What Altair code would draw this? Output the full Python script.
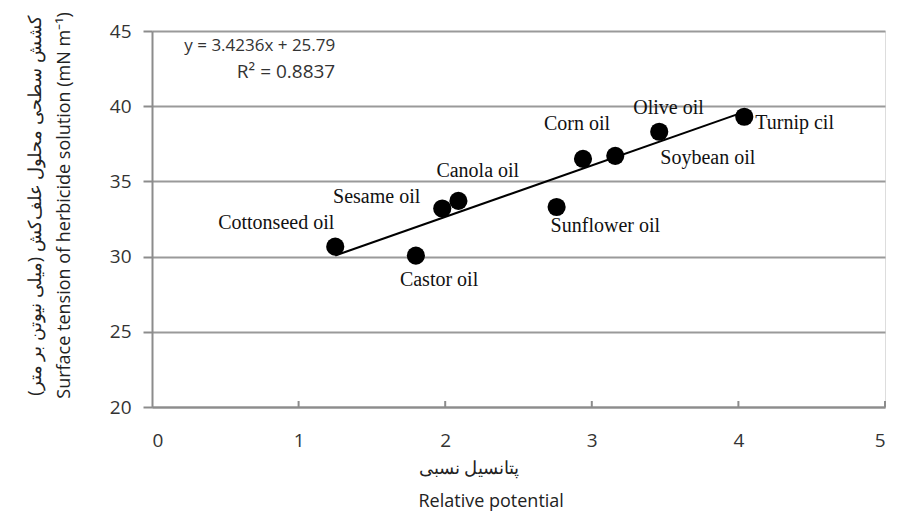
import altair as alt
import pandas as pd

# ---- data ----
OILS = ["Cottonseed oil", "Castor oil", "Sesame oil", "Canola oil", "Sunflower oil",
        "Corn oil", "Soybean oil", "Olive oil", "Turnip cil"]
POTENTIAL = [1.25, 1.80, 1.98, 2.09, 2.76, 2.94, 3.16, 3.46, 4.04]
TENSION = [30.66, 30.06, 33.2, 33.7, 33.3, 36.5, 36.7, 38.3, 39.3]
X_TICKS = [0, 1, 2, 3, 4, 5]
Y_TICKS = [20, 25, 30, 35, 40, 45]
SLOPE = 3.4236
INTERCEPT = 25.79
EQUATION = "y = 3.4236x + 25.79"
R2_TEXT = "R² = 0.8837"
X_TITLE = ["پتانسیل نسبی", "Relative potential"]
Y_TITLE = ["کشش سطحی محلول علف‌کش (میلی نیوتن بر متر)",
           "Surface tension of herbicide solution (mN m⁻¹)"]

# ---- label styles (align, dx, dy) ----
LABEL_STYLE = {
    "Cottonseed oil": ("right", -1, -24),
    "Castor oil": ("left", -16, 24),
    "Sesame oil": ("right", -22, -11),
    "Canola oil": ("left", -22, -30),
    "Sunflower oil": ("left", -6, 19),
    "Corn oil": ("left", -39, -35),
    "Soybean oil": ("left", 45, 2),
    "Olive oil": ("left", -26, -24),
    "Turnip cil": ("left", 11, 6),
}

df = pd.DataFrame({"oil": OILS, "x": POTENTIAL, "y": TENSION})
x0, x1 = min(POTENTIAL), max(POTENTIAL)
line_df = pd.DataFrame({"x": [x0, x1], "y": [SLOPE * x0 + INTERCEPT, SLOPE * x1 + INTERCEPT]})
eq_df = pd.DataFrame({"x": [1.25], "y": [44.0], "t": [EQUATION]})
r2_df = pd.DataFrame({"x": [1.25], "y": [42.3], "t": [R2_TEXT]})
tick_df = pd.DataFrame({"x": X_TICKS[1:], "y": [20] * 5, "y2": [20.4] * 5})

AX_FONT = "Open Sans"
xscale = alt.Scale(domain=[0, 5], nice=False, zero=False)
yscale = alt.Scale(domain=[20, 45], nice=False, zero=False)

W, H = 733, 376

xaxis = alt.Axis(values=X_TICKS, format="d", title=X_TITLE, grid=False, ticks=False,
                 labelFont=AX_FONT, labelFontSize=19, labelColor="#333333",
                 labelPadding=24, domainColor="#8c8c8c", domainWidth=2,
                 titleFont=AX_FONT, titleFontSize=18, titleFontWeight="normal",
                 titleColor="#222222", titlePadding=9, titleLineHeight=33,
                 titleAlign="left", titleAnchor="start", titleX=266)
yaxis = alt.Axis(values=Y_TICKS, title=Y_TITLE, grid=True, gridColor="#9a9a9a",
                 gridWidth=2, tickColor="#8c8c8c", tickSize=9, tickWidth=2,
                 labelFont=AX_FONT, labelFontSize=19, labelColor="#333333",
                 labelPadding=12, domainColor="#8c8c8c", domainWidth=2,
                 titleFont=AX_FONT, titleFontSize=18, titleFontWeight="normal",
                 titleColor="#222222", titlePadding=36, titleLineHeight=29,
                 titleY=174)

base_pts = alt.Chart(df).mark_circle(size=330, color="black", opacity=1).encode(
    x=alt.X("x:Q", scale=xscale, axis=xaxis),
    y=alt.Y("y:Q", scale=yscale, axis=yaxis),
)

trend = alt.Chart(line_df).mark_line(color="black", strokeWidth=2).encode(
    x=alt.X("x:Q", scale=xscale), y=alt.Y("y:Q", scale=yscale))

xticks = alt.Chart(tick_df).mark_rule(color="#8c8c8c", strokeWidth=2).encode(
    x=alt.X("x:Q", scale=xscale), y=alt.Y("y:Q", scale=yscale), y2="y2:Q")

eq = alt.Chart(eq_df).mark_text(align="right", baseline="middle", font=AX_FONT,
                                fontSize=17, color="#333333").encode(
    x=alt.X("x:Q", scale=xscale), y=alt.Y("y:Q", scale=yscale), text="t:N")
r2 = alt.Chart(r2_df).mark_text(align="right", baseline="middle", font=AX_FONT,
                                fontSize=19, color="#333333").encode(
    x=alt.X("x:Q", scale=xscale), y=alt.Y("y:Q", scale=yscale), text="t:N")

labels = []
for name, (al, dx, dy) in LABEL_STYLE.items():
    labels.append(
        alt.Chart(df).transform_filter(alt.datum.oil == name)
        .mark_text(align=al, baseline="middle", dx=dx, dy=dy,
                   font="Liberation Serif", fontSize=20, color="#111111")
        .encode(x=alt.X("x:Q", scale=xscale), y=alt.Y("y:Q", scale=yscale), text="oil:N")
    )

chart = alt.layer(xticks, trend, base_pts, eq, r2, *labels).properties(
    width=W, height=H,
    autosize=alt.AutoSizeParams(type="none"),
    padding={"left": 144, "top": 23, "right": 4, "bottom": 108},
).configure_view(stroke=None).configure(background="white")

chart.save("out.html", embed_options={"renderer": "svg", "actions": False})
